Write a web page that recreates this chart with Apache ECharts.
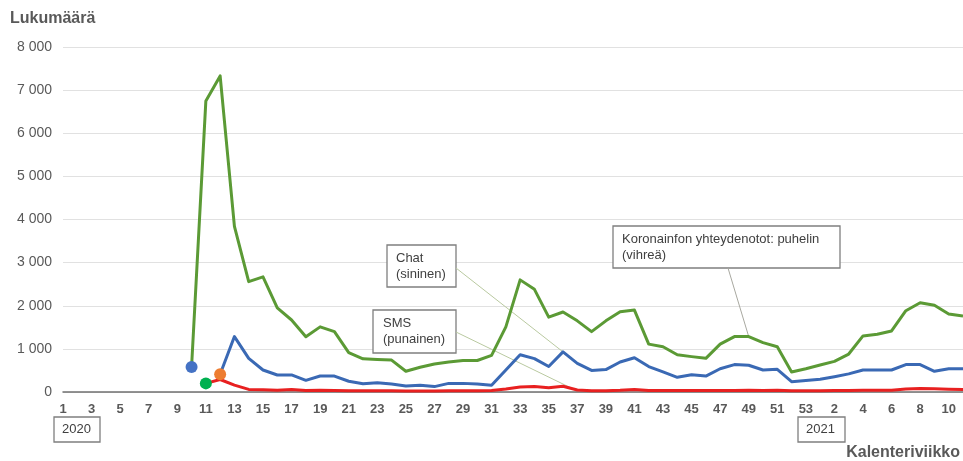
<!DOCTYPE html>
<html>
<head>
<meta charset="utf-8">
<script src="https://cdn.jsdelivr.net/npm/echarts@6/dist/echarts.min.js"></script>
<style>
  html, body { margin: 0; padding: 0; background: #ffffff; }
  #chart { width: 963px; height: 461px; }
</style>
</head>
<body>
<div id="chart"></div>
<script>
// Calendar weeks: 2020 weeks 1–53 followed by 2021 weeks 1–11
const weeks = [
  '1','2','3','4','5','6','7','8','9','10','11','12','13','14','15','16','17','18','19','20',
  '21','22','23','24','25','26','27','28','29','30','31','32','33','34','35','36','37','38','39','40',
  '41','42','43','44','45','46','47','48','49','50','51','52','53',
  '1','2','3','4','5','6','7','8','9','10','11'
];

// Koronainfo contacts per week: phone (green)
const phone = [
  null, null, null, null, null, null, null, null, null, 580,
  6750, 7330, 3840, 2560, 2670, 1950, 1670, 1280, 1510, 1400,
  915, 770, 755, 740, 480, 575, 650, 695, 730, 730,
  850, 1510, 2600, 2380, 1735, 1855, 1650, 1400, 1650, 1860,
  1900, 1110, 1050, 865, 820, 780, 1110, 1285, 1285, 1145,
  1050, 465, 540,
  625, 710, 880, 1300, 1340, 1415, 1885, 2070, 2010, 1810, 1760
];

// Chat (blue)
const chat = [
  null, null, null, null, null, null, null, null, null, null,
  null, 410, 1285, 780, 510, 395, 395, 270, 370, 370,
  250, 190, 215, 185, 140, 155, 125, 200, 200, 185,
  155, 510, 865, 775, 590, 930, 665, 500, 520, 695,
  795, 590, 465, 340, 400, 370, 540, 635, 620, 510,
  525, 240, 265,
  295, 355, 420, 510, 510, 510, 635, 635, 480, 540, 540
];

// SMS (red)
const sms = [
  null, null, null, null, null, null, null, null, null, null,
  200, 290, 160, 60, 55, 40, 60, 35, 40, 35,
  30, 30, 30, 30, 25, 25, 25, 30, 30, 30,
  35, 70, 115, 125, 100, 135, 45, 30, 30, 40,
  60, 35, 35, 35, 35, 35, 35, 35, 40, 35,
  40, 30, 30,
  30, 35, 35, 40, 40, 40, 70, 80, 75, 65, 60
];

const yMax = 8000;
const yStep = 1000;

const COLORS = {
  phone: '#5b9a35',
  chat: '#3a69b4',
  sms: '#e82020',
  dotBlue: '#4472c4',
  dotGreen: '#00b050',
  dotOrange: '#ed7d31',
  text: '#595959'
};

const FONT = '"Liberation Sans", Arial, sans-serif';

function firstIndex(arr) {
  return arr.findIndex(v => v !== null);
}

// start markers for each series
const iPhone = firstIndex(phone);
const iSms = firstIndex(sms);
const iChat = firstIndex(chat);
const startDots = [
  { value: [iPhone, phone[iPhone]], itemStyle: { color: COLORS.dotBlue, opacity: 1 } },
  { value: [iSms, sms[iSms]], itemStyle: { color: COLORS.dotGreen, opacity: 1 } },
  { value: [iChat, chat[iChat]], itemStyle: { color: COLORS.dotOrange, opacity: 1 } }
];

const chart = echarts.init(document.getElementById('chart'), null, { renderer: 'canvas' });

function lineSeries(name, data, color) {
  return {
    name, type: 'line', data,
    symbol: 'none', connectNulls: false, smooth: false,
    lineStyle: { color, width: 3, join: 'round' },
    itemStyle: { color },
    z: 3, animation: false
  };
}

chart.setOption({
  animation: false,
  textStyle: { fontFamily: FONT },
  title: {
    text: 'Lukumäärä', left: 10, top: 11, padding: 0,
    textStyle: { fontFamily: FONT, fontSize: 16, fontWeight: 'bold', color: COLORS.text }
  },
  grid: { left: 63, top: 47, width: 907, height: 345, containLabel: false },
  xAxis: {
    type: 'category', data: weeks, boundaryGap: false,
    axisLine: { lineStyle: { color: '#707070', width: 1.5 } },
    axisTick: { show: false },
    axisLabel: {
      interval: 1, margin: 11, color: COLORS.text, fontSize: 13, fontWeight: 'bold', fontFamily: FONT
    },
    splitLine: { show: false }
  },
  yAxis: {
    type: 'value', min: 0, max: yMax, interval: yStep,
    axisLine: { show: false }, axisTick: { show: false },
    axisLabel: {
      margin: 11, color: COLORS.text, fontSize: 14, fontFamily: FONT,
      formatter: v => String(v).replace(/\B(?=(\d{3})+(?!\d))/g, ' ')
    },
    splitLine: { lineStyle: { color: '#e1e1e1', width: 1 } }
  },
  series: [
    lineSeries('Puhelin', phone, COLORS.phone),
    lineSeries('Chat', chat, COLORS.chat),
    lineSeries('SMS', sms, COLORS.sms),
    {
      name: 'Alku', type: 'scatter', data: startDots,
      symbol: 'circle', symbolSize: 12, z: 5, animation: false,
      itemStyle: { opacity: 1 }
    }
  ]
});

// Annotation boxes with leader lines to the series
function px(idx, val) {
  return chart.convertToPixel({ gridIndex: 0 }, [idx, val]);
}

function box(x, y, w, h, lines, textLeft) {
  return {
    type: 'group', z: 10,
    children: [
      { type: 'rect', shape: { x, y, width: w, height: h },
        style: { fill: '#ffffff', stroke: '#7f7f7f', lineWidth: 1.3 } },
      { type: 'text', x: textLeft, y: y + (h - lines.length * 16) / 2,
        style: { text: lines.join('\n'), font: '13px ' + FONT, fill: '#404040', lineHeight: 16, verticalAlign: 'top' } }
    ]
  };
}

function leader(from, to, color) {
  return {
    type: 'line', z: 1,
    shape: { x1: from[0], y1: from[1], x2: to[0], y2: to[1] },
    style: { stroke: color, lineWidth: 1 }
  };
}

const chatTarget = px(35, chat[35]);
const smsA = px(35, sms[35]);
const smsB = px(36, sms[36]);
const smsTarget = [smsA[0] + (smsB[0] - smsA[0]) * 0.7, smsA[1] + (smsB[1] - smsA[1]) * 0.7];
const phoneTarget = px(48, phone[48]);

chart.setOption({
  graphic: [
    leader([456, 268], chatTarget, '#b9c9a0'),
    leader([456, 332], smsTarget, '#b9c9a0'),
    leader([728, 268], phoneTarget, '#a8a8a0'),
    box(387, 245, 69, 42, ['Chat', '(sininen)'], 396),
    box(373, 310, 83, 43, ['SMS', '(punainen)'], 383),
    box(613, 226, 227, 42, ['Koronainfon yhteydenotot: puhelin', '(vihreä)'], 622),
    box(54, 417, 46, 25, ['2020'], 62),
    box(798, 417, 47, 25, ['2021'], 806),
    {
      type: 'text', right: 3, top: 445, z: 10,
      style: { text: 'Kalenteriviikko', font: 'bold 16px ' + FONT, fill: COLORS.text }
    }
  ]
});
</script>
</body>
</html>
